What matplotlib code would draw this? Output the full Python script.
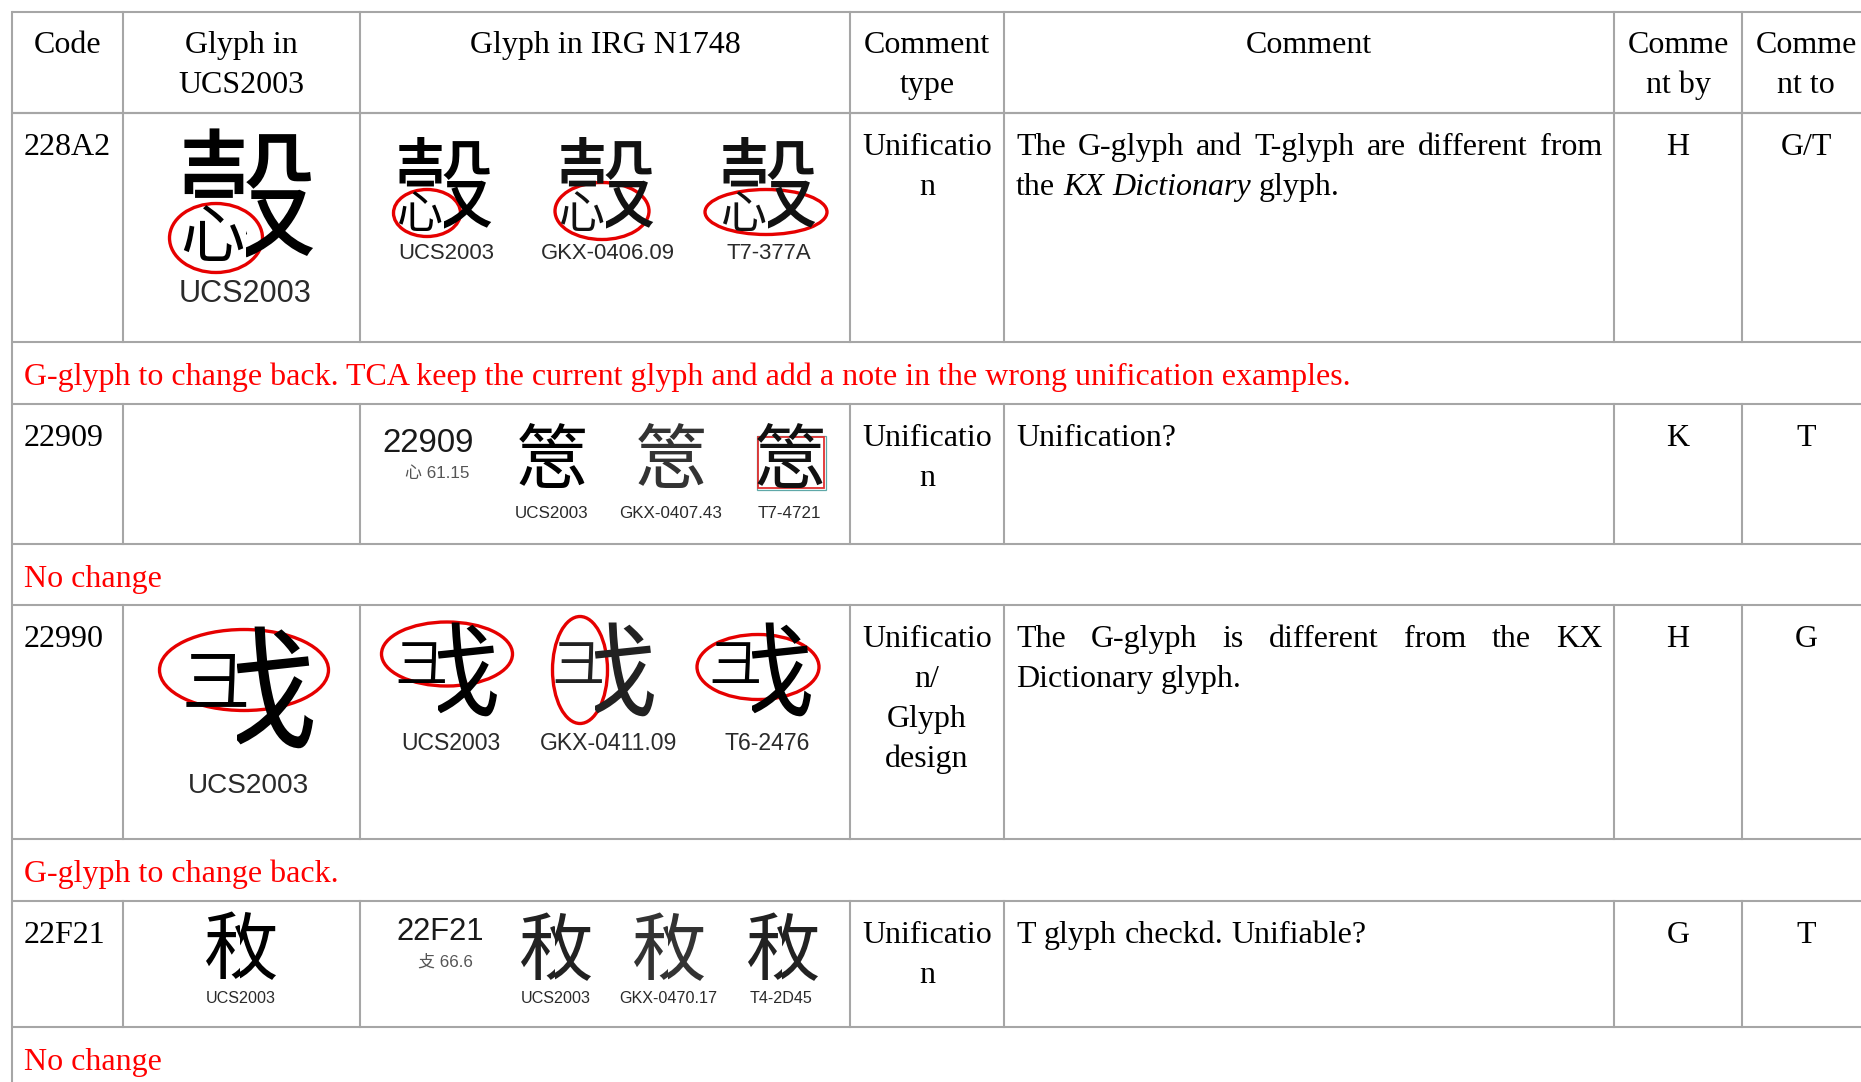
import matplotlib
matplotlib.use("Agg")
import matplotlib.pyplot as plt
from matplotlib.patches import Ellipse, Rectangle
from matplotlib.transforms import Bbox

# ---------------- data ----------------
headers = [["Code"], ["Glyph in", "UCS2003"], ["Glyph in IRG N1748"],
           ["Comment", "type"], ["Comment"], ["Comme", "nt by"], ["Comme", "nt to"]]
codes = ["228A2", "22909", "22990", "22F21"]
comment_types = [["Unificatio", "n"], ["Unificatio", "n"],
                 ["Unificatio", "n/", "Glyph", "design"], ["Unificatio", "n"]]
comment_lines = [["The G-glyph and T-glyph are different from", "the *KX Dictionary* glyph."],
                 ["Unification?"],
                 ["The G-glyph is different from the KX", "Dictionary glyph."],
                 ["T glyph checkd. Unifiable?"]]
comment_by = ["H", "K", "H", "G"]
comment_to = ["G/T", "T", "G", "T"]
decisions = ["G-glyph to change back. TCA keep the current glyph and add a note in the wrong unification examples.",
             "No change", "G-glyph to change back.", "No change"]
source_labels = [["UCS2003", "GKX-0406.09", "T7-377A"],
                 ["UCS2003", "GKX-0407.43", "T7-4721"],
                 ["UCS2003", "GKX-0411.09", "T6-2476"],
                 ["UCS2003", "GKX-0470.17", "T4-2D45"]]
ucs_label = "UCS2003"
radical_info = [None, ("22909", "心 61.15"), None, ("22F21", "攴 66.6")]
# The Ext-B ideographs (U+228A2, U+22909, U+22990, U+22F21) are not in the
# installed fonts, so each is built from clipped pieces of real characters:
# (char, dx_em, dy_em, scale, clip box (x0, y0, x1, y1) in em about centre)
glyph_recipes = [
    [("殼", 0.0, 0.0, 1.0, (0.0, -1, 1, 1)), ("殼", 0.0, 0.0, 1.0, (-1, -1, 0.0, 0.06)),
     ("心", -0.24, 0.29, 0.46, None)],
    [("篙", 0.0, 0.0, 1.0, (-1, -1, 1, 0.07)), ("思", 0.0, 0.0, 1.0, (-1, 0.07, 1, 1))],
    [("找", 0.0, 0.0, 1.0, (-0.1, -1, 1, 1)), ("彐", -0.26, -0.07, 0.5, None)],
    [("秋", 0.0, 0.0, 1.0, (-1, -1, -0.02, 1)), ("敉", 0.0, 0.0, 1.0, (-0.02, -1, 1, 1))],
]

# ---------------- layout (pixels) ----------------
W, H, DPI = 1861, 1082, 100
col_edges = [12, 123, 360, 850, 1004, 1614, 1742, 1880]
header_rows = (12, 113)
data_rows = [(113, 342), (404, 544), (605, 839), (901, 1027)]
note_rows = [(342, 404), (544, 605), (839, 901), (1027, 1100)]
col_centers = [(col_edges[i] + col_edges[i + 1]) / 2 for i in range(7)]
col_centers[6] = 1806

col1_glyph = [(246, 192, 140), None, (250, 688, 133), (241, 945, 74)]
col1_label = [(245, 302, 36), None, (249, 793, 33), (241, 1003, 19)]
col2_x = [[444, 606, 768], [552, 671, 790], [448, 605, 762], [556, 669, 783]]
col2_y = [182, 457, 670, 946]
col2_em = [100, 72, 103, 74]
col2_lab_x = [[446, 608, 769], [552, 671, 789], [451, 609, 767], [556, 668, 781]]
col2_lab_y = [259, 518, 750, 1003]
col2_lab_em = [26, 20, 27, 19]
col2_glyph_color = [["#000", "#111", "#111"], ["#000", "#333", "#111"],
                    ["#000", "#222", "#000"], ["#222", "#333", "#222"]]
radical_pos = [None, ((428, 452, 33), (437, 478, 17)), None, ((440, 940, 31), (445, 967, 17))]
ellipses = [(216, 238, 93, 69), (427, 213, 67, 47), (602, 211, 94, 57), (766, 212, 122, 45),
            (244, 670, 169, 81), (447, 654, 131, 64), (580, 670, 55, 107), (758, 667, 122, 65)]
red_box = (758, 437, 66, 51)

SERIF_PX = 32
LINE = 40
LABEL_FONT, LABEL_SCALE = "Liberation Sans", 0.85
CJK = "Noto Sans CJK TC"
CJK_WEIGHT = "light"
SERIF = "Liberation Serif"


def pt(px):
    return px * 72.0 / DPI


# ---------------- figure ----------------
fig = plt.figure(figsize=(W / DPI, H / DPI), dpi=DPI)
ax = fig.add_axes([0, 0, 1, 1])
ax.set_xlim(0, W)
ax.set_ylim(H, 0)
ax.axis("off")
renderer = fig.canvas.get_renderer()

GRID = "#a6a6a6"
GLW = 1.5

for y in [header_rows[0], header_rows[1]] + [r[0] for r in data_rows] + [r[1] for r in data_rows]:
    ax.plot([col_edges[0], W], [y, y], color=GRID, lw=GLW, solid_capstyle="butt")
ax.plot([col_edges[0], col_edges[0]], [header_rows[0], H], color=GRID, lw=GLW)
spans = [(header_rows[0], data_rows[0][1])] + [r for r in data_rows[1:]]
for (y0, y1) in spans:
    for x in col_edges[1:-1]:
        ax.plot([x, x], [y0, y1], color=GRID, lw=GLW)


def serif_text(x, y, s, ha="left", color="black", style="normal"):
    return ax.text(x, y, s, ha=ha, va="baseline", fontsize=pt(SERIF_PX),
                   family=SERIF, color=color, style=style)


def width_of(s, style="normal"):
    t = serif_text(0, 0, s, style=style)
    w = t.get_window_extent(renderer).width
    t.remove()
    return w


SPACE = width_of("a a") - width_of("aa")


def tokens_of(line):
    toks, italic = [], False
    for w in line.split(" "):
        if w.startswith("*"):
            italic = True
        toks.append((w.replace("*", ""), italic))
        if w.endswith("*"):
            italic = False
    return toks


def draw_line(line, x0, x1, y, justify):
    toks = tokens_of(line)
    widths = [width_of(w, "italic" if it else "normal") for w, it in toks]
    if justify and len(toks) > 1:
        gap = (x1 - x0 - sum(widths)) / (len(toks) - 1)
    else:
        gap = SPACE
    x = x0
    for (w, it), wd in zip(toks, widths):
        serif_text(x, y, w, style="italic" if it else "normal")
        x += wd + gap


def composite(cx, cy, em, recipe, color="black"):
    for ch, dx, dy, sc, clip in recipe:
        e = em * sc
        px, py = cx + dx * em, cy + dy * em
        t = ax.text(px, py + 0.38 * e, ch, ha="center", va="baseline",
                    fontsize=pt(e), family=[CJK, "DejaVu Sans"], color=color,
                    fontweight=CJK_WEIGHT)
        if clip is not None:
            x0, y0, x1, y1 = clip
            bx0, bx1 = cx + x0 * em, cx + x1 * em
            by0, by1 = cy + y0 * em, cy + y1 * em
            t.set_clip_box(Bbox.from_extents(bx0, H - by1, bx1, H - by0))
            t.set_clip_on(True)


def label(x, y, em, s, color="#2a2a2a"):
    ax.text(x, y, s, ha="center", va="baseline", fontsize=pt(em * LABEL_SCALE),
            family=LABEL_FONT, color=color)


# header
hy = header_rows[0] + 41
for i, lines in enumerate(headers):
    for k, s in enumerate(lines):
        serif_text(col_centers[i], hy + k * LINE, s, ha="center")

# data rows
for r, (y0, y1) in enumerate(data_rows):
    by = y0 + 42
    serif_text(col_edges[0] + 12, by, codes[r])
    for k, s in enumerate(comment_types[r]):
        serif_text(col_centers[3], by + k * LINE, s, ha="center")
    lines = comment_lines[r]
    for k, s in enumerate(lines):
        draw_line(s, col_edges[4] + 12, col_edges[5] - 12, by + k * LINE,
                  justify=(k < len(lines) - 1))
    serif_text(col_centers[5], by, comment_by[r], ha="center")
    serif_text(col_centers[6], by, comment_to[r], ha="center")
    recipe = glyph_recipes[r]
    if col1_glyph[r] is not None:
        cx, cy, em = col1_glyph[r]
        composite(cx, cy, em, recipe)
        lx, ly, lem = col1_label[r]
        label(lx, ly, lem, ucs_label)
    if radical_info[r] is not None:
        (ax_, ay_, aem), (bx_, by_, bem) = radical_pos[r]
        ax.text(ax_, ay_, radical_info[r][0], ha="center", va="baseline",
                fontsize=pt(aem), family="Liberation Sans", color="#1a1a1a")
        ax.text(bx_, by_, radical_info[r][1], ha="center", va="baseline",
                fontsize=pt(bem), family=["Liberation Sans", CJK], color="#555555")
    for j in range(3):
        composite(col2_x[r][j], col2_y[r], col2_em[r], recipe, color=col2_glyph_color[r][j])
        label(col2_lab_x[r][j], col2_lab_y[r], col2_lab_em[r], source_labels[r][j])

# red notes
for r, (y0, y1) in enumerate(note_rows):
    serif_text(col_edges[0] + 12, y0 + 43, decisions[r], color="#ff0000")

# red ellipses and box
for (cx, cy, w, h) in ellipses:
    ax.add_patch(Ellipse((cx, cy), w, h, fill=False, ec="#e60000", lw=2.4))
bx, by_, bw, bh = red_box
ax.add_patch(Rectangle((bx - 1.5, by_ - 1.5), bw + 3, bh + 3, fill=False, ec="#5fa8a8", lw=0.9))
ax.add_patch(Rectangle((bx, by_), bw, bh, fill=False, ec="#e03030", lw=1.3))

fig.savefig("out.png", dpi=DPI)
